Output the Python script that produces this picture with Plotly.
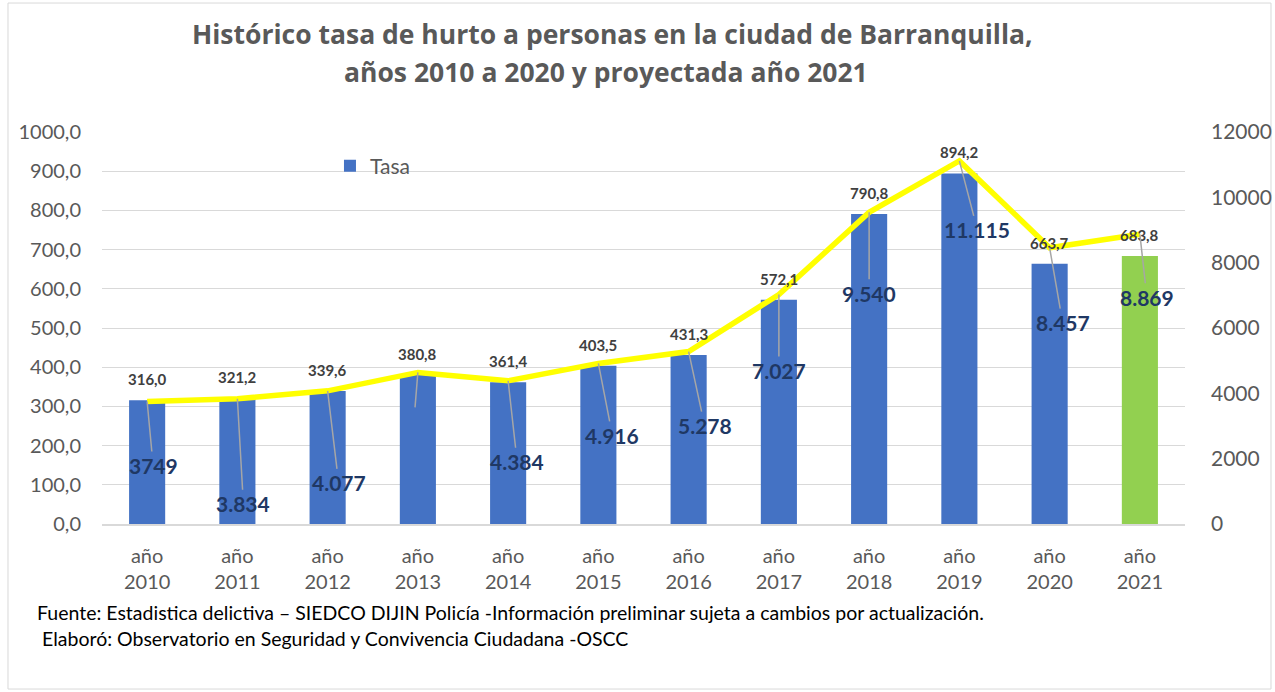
import plotly.graph_objects as go

years = ["2010", "2011", "2012", "2013", "2014", "2015", "2016", "2017", "2018", "2019", "2020", "2021"]
categories = ["año<br>" + y for y in years]
tasa = [316.0, 321.2, 339.6, 380.8, 361.4, 403.5, 431.3, 572.1, 790.8, 894.2, 663.7, 683.8]
casos = [3749, 3834, 4077, 4640, 4384, 4916, 5278, 7027, 9540, 11115, 8457, 8869]
casos_labels = ["3749", "3.834", "4.077", " ", "4.384", "4.916", "5.278", "7.027", "9.540", "11.115", "8.457", "8.869"]

# label offsets (pixels) for the count labels
label_dx = [6, 6, 11, -4, 9, 14, 16, 0, 0, 18, 13, 7]
label_dy = [64, 105, 92, 49, 81, 72, 74, 76, 81, 69, 75, 63]

FONT = "Lato"
TFONT = "Open Sans"
GREY = "#595959"
bar_colors = ["#4472C4"] * 11 + ["#92D050"]

fig = go.Figure()
fig.add_trace(go.Bar(
    x=categories, y=tasa, name="Tasa", marker=dict(color=bar_colors, line=dict(width=0)),
    showlegend=True, yaxis="y",
))
fig.add_trace(go.Scatter(
    x=categories, y=casos, name="Casos", mode="lines",
    line=dict(color="#FFFF00", width=5.5), yaxis="y2", showlegend=False,
))

annotations = []
for c, v in zip(categories, tasa):
    annotations.append(dict(
        x=c, y=v, xref="x", yref="y", text=f"{v:.1f}".replace(".", ","),
        showarrow=False, yshift=21,
        font=dict(family=FONT, size=15, color="#404040", weight="bold"),
    ))
for c, v, t, dx, dy in zip(categories, casos, casos_labels, label_dx, label_dy):
    annotations.append(dict(
        x=c, y=v, xref="x", yref="y2", text=t,
        showarrow=True, arrowhead=0, arrowwidth=1.5, arrowcolor="#A6A6A6",
        ax=dx, ay=dy, standoff=0,
        font=dict(family=FONT, size=21, color="#1F3864", weight="bold"),
    ))

# Title lines
annotations.append(dict(
    x=0.471, y=1.250, xref="paper", yref="paper", showarrow=False, yanchor="middle",
    text="Histórico tasa de hurto a personas en la ciudad de Barranquilla,",
    font=dict(family=TFONT, size=26.5, color=GREY, weight="bold"),
))
annotations.append(dict(
    x=0.465, y=1.153, xref="paper", yref="paper", showarrow=False, yanchor="middle",
    text="años 2010 a 2020 y proyectada año 2021",
    font=dict(family=TFONT, size=26.5, color=GREY, weight="bold"),
))
# Footer
annotations.append(dict(
    x=-0.0619, y=-0.227, xref="paper", yref="paper", showarrow=False, xanchor="left", yanchor="middle",
    text="Fuente: Estadistica delictiva – SIEDCO DIJIN Policía -Información preliminar sujeta a cambios por actualización.",
    font=dict(family=FONT, size=19.5, color="#000000"),
))
annotations.append(dict(
    x=-0.0573, y=-0.291, xref="paper", yref="paper", showarrow=False, xanchor="left", yanchor="middle",
    text="Elaboró: Observatorio en Seguridad y Convivencia Ciudadana -OSCC",
    font=dict(family=FONT, size=19.5, color="#000000"),
))

fig.update_layout(
    width=1275, height=692,
    margin=dict(l=102, r=90, t=132, b=168, autoexpand=False),
    paper_bgcolor="white", plot_bgcolor="white",
    separators=",.",
    bargap=0.6,
    font=dict(family=FONT, color=GREY),
    xaxis=dict(
        type="category", showgrid=False, showline=True, linecolor="#D9D9D9", linewidth=1.5,
        tickfont=dict(family=FONT, size=20, color=GREY), ticks="", ticklabelstandoff=13,
        automargin=False,
    ),
    yaxis=dict(
        range=[0, 1000], dtick=100, tickformat=".1f", showgrid=True, gridcolor="#D9D9D9",
        gridwidth=1.2, zeroline=False, showline=False, ticks="",
        tickfont=dict(family=FONT, size=20, color=GREY), ticklabelstandoff=20,
        automargin=False,
    ),
    yaxis2=dict(
        range=[0, 12000], dtick=2000, tickformat="d", overlaying="y", side="right",
        showgrid=False, zeroline=False, showline=False, ticks="",
        tickfont=dict(family=FONT, size=21, color=GREY), ticklabelstandoff=25,
        automargin=False,
    ),
    legend=dict(
        x=0.2105, y=0.965, xanchor="left", yanchor="top", bgcolor="rgba(0,0,0,0)",
        font=dict(family=FONT, size=21, color=GREY),
    ),
    annotations=annotations,
    shapes=[dict(
        type="rect", xref="paper", yref="paper", x0=-0.0868, x1=1.0794, y0=-0.421, y1=1.329,
        line=dict(color="#D9D9D9", width=1), fillcolor="rgba(0,0,0,0)", layer="below",
    )],
)

fig.write_html("out.html", config={"displayModeBar": False},
               post_script="document.body.style.margin='0';")
